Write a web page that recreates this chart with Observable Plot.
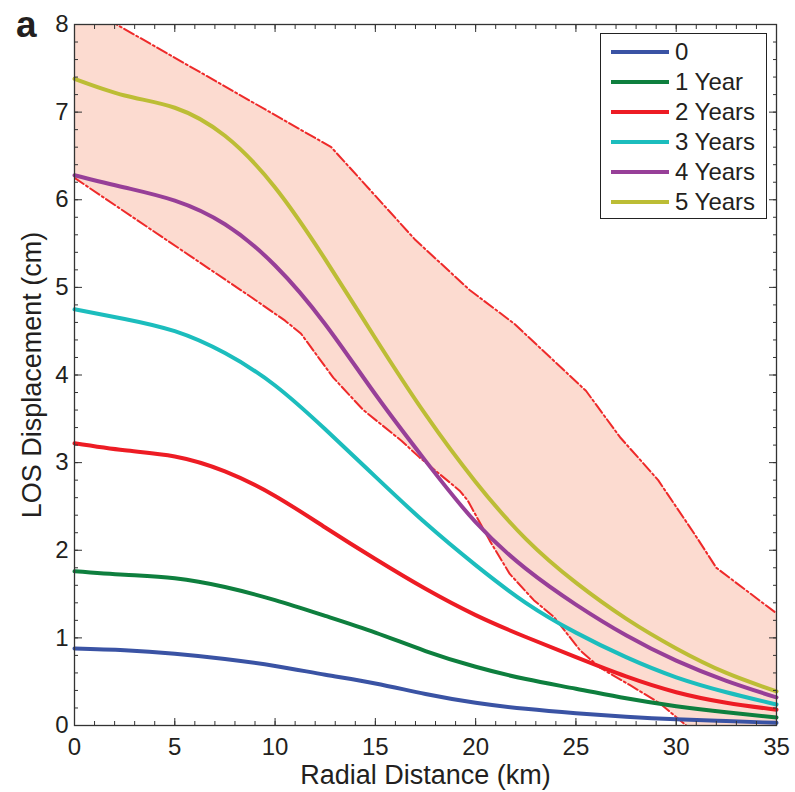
<!DOCTYPE html>
<html><head><meta charset="utf-8">
<script src="https://cdn.jsdelivr.net/npm/d3@7"></script>
<script src="https://cdn.jsdelivr.net/npm/@observablehq/plot@0.6"></script>
<style>
html,body{margin:0;padding:0;background:#fff;}
#wrap{position:relative;width:795px;height:792px;font-family:"Liberation Sans",Helvetica,Arial,sans-serif;color:#231f20;}
#wrap svg{position:absolute;left:0;top:0;}
#panel{position:absolute;left:16px;top:3px;font-weight:bold;font-size:37px;line-height:44px;}
#legend{position:absolute;left:600px;top:33px;width:167px;height:186px;border:1.3px solid #222;background:#fff;box-sizing:border-box;}
.row{position:absolute;left:0;height:30px;display:flex;align-items:center;font-size:24px;white-space:nowrap;}
.sw{width:58px;height:4px;margin-left:10px;margin-right:6px;}
</style></head>
<body>
<div id="wrap"><div id="chart"></div><div id="panel">a</div><div id="legend"></div></div>
<script>
// Radial distance grid (km) for the modelled curves
const distance = [0, 2.5, 5, 7.5, 10, 12.5, 15, 17.5, 20, 22.5, 25, 27.5, 30, 32.5, 35];
// LOS displacement (cm) per elapsed time
const year0 = [0.88, 0.86, 0.82, 0.76, 0.68, 0.58, 0.48, 0.36, 0.26, 0.19, 0.14, 0.10, 0.07, 0.05, 0.03];
const year1 = [1.76, 1.72, 1.68, 1.58, 1.43, 1.25, 1.06, 0.85, 0.67, 0.53, 0.42, 0.31, 0.22, 0.15, 0.09];
const year2 = [3.22, 3.14, 3.07, 2.90, 2.62, 2.26, 1.90, 1.56, 1.26, 1.01, 0.78, 0.56, 0.38, 0.26, 0.18];
const year3 = [4.75, 4.64, 4.50, 4.25, 3.88, 3.38, 2.84, 2.31, 1.83, 1.40, 1.06, 0.78, 0.55, 0.38, 0.24];
const year4 = [6.28, 6.14, 5.99, 5.72, 5.25, 4.58, 3.78, 3.02, 2.32, 1.79, 1.38, 1.03, 0.74, 0.51, 0.32];
const year5 = [7.38, 7.19, 7.05, 6.73, 6.14, 5.32, 4.42, 3.55, 2.78, 2.13, 1.63, 1.22, 0.88, 0.60, 0.39];
const seriesNames = ["0", "1 Year", "2 Years", "3 Years", "4 Years", "5 Years"];
const seriesColors = ["#3a53a4", "#0e7f3e", "#ed1c24", "#1cbdbd", "#973f98", "#bcbd35"];
// Observed envelope (dash-dot bounds)
const upperX = [0, 2.1, 12.8, 17.0, 19.7, 21.9, 25.5, 27.2, 29.1, 30.9, 32.0, 35];
const upperY = [8.27, 8.0, 6.6, 5.54, 4.97, 4.59, 3.82, 3.29, 2.80, 2.19, 1.80, 1.28];
const lowerX = [0, 8.8, 10.5, 11.3, 12.9, 14.4, 16.3, 17.2, 19.2, 19.6, 20.7, 21.7, 22.9, 23.9, 25.2, 26.2, 27.7, 29.2, 30.5, 35];
const lowerY = [6.25, 4.89, 4.62, 4.47, 3.97, 3.60, 3.25, 3.06, 2.68, 2.57, 2.11, 1.73, 1.43, 1.24, 0.86, 0.66, 0.46, 0.25, 0, -0.9];
// Axis ticks
const xTicks = [0, 5, 10, 15, 20, 25, 30, 35];
const yTicks = [0, 1, 2, 3, 4, 5, 6, 7, 8];
const xMinor = d3.range(0, 36, 1);
const yMinor = d3.range(0, 41, 1).map(i => i * 0.2);

const seriesValues = [year0, year1, year2, year3, year4, year5];
const rows = [];
seriesValues.forEach((vals, s) => vals.forEach((v, i) => rows.push({series: seriesNames[s], x: distance[i], y: v})));
const upper = upperX.map((x, i) => ({x, y: upperY[i]}));
const lower = lowerX.map((x, i) => ({x, y: lowerY[i]}));
const polygon = [...upper, ...lower.slice().reverse()];

const axisColor = "#333";
const chart = Plot.plot({
  width: 795, height: 792,
  marginLeft: 74, marginRight: 19, marginTop: 24, marginBottom: 67,
  style: {fontFamily: '"Liberation Sans", Helvetica, Arial, sans-serif', fontSize: "24px", color: "#231f20", background: "transparent"},
  x: {domain: [0, 35], axis: null},
  y: {domain: [0, 8], axis: null},
  color: {domain: seriesNames, range: seriesColors},
  marks: [
    Plot.line(polygon, {x: "x", y: "y", fill: "#fcdbd0", stroke: "none", clip: true}),
    Plot.line(upper, {x: "x", y: "y", stroke: "#ee2a2a", strokeWidth: 2, strokeDasharray: "11,3,2,3", clip: true}),
    Plot.line(lower, {x: "x", y: "y", stroke: "#ee2a2a", strokeWidth: 2, strokeDasharray: "11,3,2,3", clip: true}),
    Plot.line(rows, {x: "x", y: "y", z: "series", stroke: "series", strokeWidth: 4, curve: "natural"}),
    Plot.frame({stroke: axisColor, strokeWidth: 1.3}),
    // tick labels
    Plot.axisX(xTicks, {anchor: "bottom", tickSize: 0, tickPadding: 12, label: null, fontSize: 24, tickFormat: d => String(d)}),
    Plot.axisY(yTicks, {anchor: "left", tickSize: 0, tickPadding: 6, label: null, fontSize: 24, tickFormat: d => String(d)}),
    // inward ticks, all four sides
    Plot.axisX(xTicks, {anchor: "bottom", tickSize: -7, fill: "none", stroke: axisColor, label: null}),
    Plot.axisX(xMinor, {anchor: "bottom", tickSize: -4, fill: "none", stroke: axisColor, label: null}),
    Plot.axisX(xTicks, {anchor: "top", tickSize: -7, fill: "none", stroke: axisColor, label: null}),
    Plot.axisX(xMinor, {anchor: "top", tickSize: -4, fill: "none", stroke: axisColor, label: null}),
    Plot.axisY(yTicks, {anchor: "left", tickSize: -8, fill: "none", stroke: axisColor, label: null}),
    Plot.axisY(yMinor, {anchor: "left", tickSize: -4, fill: "none", stroke: axisColor, label: null}),
    Plot.axisY(yTicks, {anchor: "right", tickSize: -8, fill: "none", stroke: axisColor, label: null}),
    Plot.axisY(yMinor, {anchor: "right", tickSize: -4, fill: "none", stroke: axisColor, label: null}),
    // axis titles
    Plot.text(["Radial Distance (km)"], {text: d => d, frameAnchor: "bottom", textAnchor: "middle", dy: 58, lineAnchor: "bottom", fontSize: 27}),
    Plot.text(["LOS Displacement (cm)"], {text: d => d, frameAnchor: "left", textAnchor: "middle", rotate: -90, dx: -34, lineAnchor: "bottom", fontSize: 27})
  ]
});
document.getElementById("chart").appendChild(chart);

const legend = document.getElementById("legend");
seriesNames.forEach((name, i) => {
  const row = document.createElement("div");
  row.className = "row";
  row.style.top = (3 + i * 30) + "px";
  const sw = document.createElement("span");
  sw.className = "sw";
  sw.style.background = seriesColors[i];
  const t = document.createElement("span");
  t.textContent = name;
  row.appendChild(sw); row.appendChild(t);
  legend.appendChild(row);
});
</script>
</body></html>
